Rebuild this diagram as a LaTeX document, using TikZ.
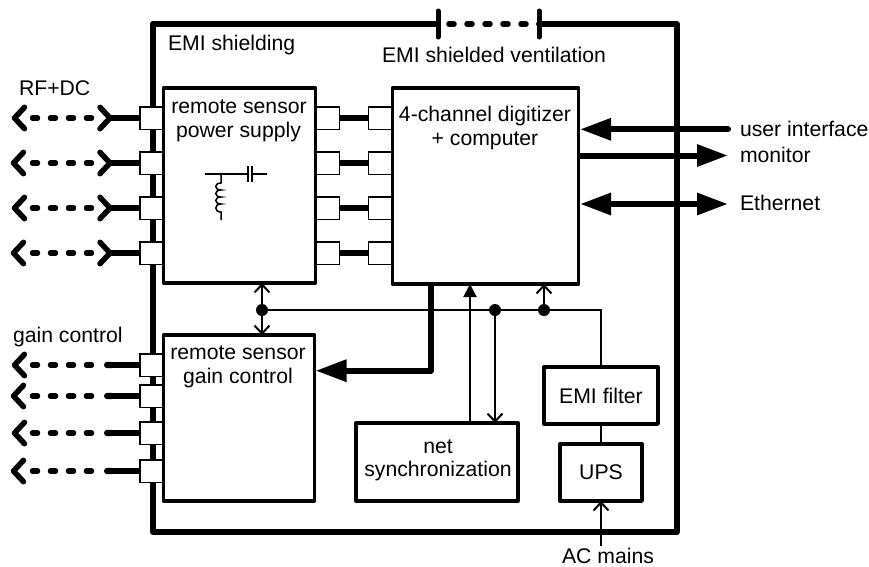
\documentclass[tikz,border=0pt]{standalone}
\usepackage{fontspec}
\setmainfont{Liberation Sans}
\usetikzlibrary{arrows.meta}
\tikzset{
  boxnode/.style={draw=black,line width=3.3pt,fill=white,inner sep=0pt,outer sep=0pt,line join=round},
  portnode/.style={draw=black,line width=1.5pt,fill=white,inner sep=0pt,outer sep=0pt,minimum width=24pt,minimum height=22.5pt},
  lbl/.style={inner sep=0pt,outer sep=0pt,font=\fontsize{21.2}{24}\selectfont,text=black},
  wall/.style={line width=6pt,line cap=round,line join=round},
  heavy/.style={line width=6.3pt},
  heavier/.style={line width=6pt,line join=round},
  thinline/.style={line width=2pt},
  dashedlink/.style={line width=5.5pt,line cap=round,dash pattern=on 5pt off 13pt},
  chevron/.style={line width=5.5pt,line cap=round,line join=round},
  openhead/.style={-{Straight Barb[length=8pt,width=15pt,line width=2pt]}},
  openboth/.style={{Straight Barb[length=8pt,width=15pt,line width=2pt]}-{Straight Barb[length=8pt,width=15pt,line width=2pt]}},
  solidhead/.style={-{Triangle[length=13pt,width=13pt]}},
  bighead/.style={-{Triangle[length=31pt,width=21pt]}},
  bighead2/.style={{Triangle[length=31pt,width=21pt]}-{Triangle[length=31pt,width=21pt]}},
  dotnode/.style={circle,fill=black,inner sep=0pt,minimum size=12pt}
}
\begin{document}
\begin{tikzpicture}[x=1pt,y=-1pt]
\useasboundingbox (0,0) rectangle (869,566);
% outer shield
\coordinate (ventL) at (438,24);
\coordinate (ventR) at (539,24);
\draw[wall] (ventL) -- (152.7,24) -- (152.7,532) -- (676.7,532) -- (676.7,24) -- (ventR);
\draw[line width=5pt,line cap=round] (438,11) -- (438,37);
\draw[line width=5pt,line cap=round] (539,11) -- (539,37);
\draw[line width=5.5pt,line cap=round,dash pattern=on 5pt off 13pt] (449,24) -- (530,24);
% RF+DC channels
\foreach \i/\y/\lx in {1/118/14.5,2/163/13.5,3/208/14.5,4/253/13.5}{
  \node[portnode] (pl\i) at (152,\y) {};
  \node[portnode] (pr\i) at (327.5,\y) {};
  \node[portnode] (dl\i) at (380.5,\y) {};
  \coordinate (far\i) at (\lx,\y);
  \coordinate (mid\i) at (110,\y);
  \coordinate (da\i) at (32.5,\y);
  \coordinate (db\i) at (92,\y);
  \draw[heavy] (mid\i) -- (pl\i.west);
  \draw[heavy] (pr\i.east) -- (dl\i.west);
  \draw[dashedlink] (da\i) -- (db\i);
  \draw[chevron] ([shift={(10,-10.7)}]far\i) -- (far\i) -- ([shift={(10,10.7)}]far\i);
  \draw[chevron] ([shift={(-10,-10.7)}]mid\i) -- (mid\i) -- ([shift={(-10,10.7)}]mid\i);
}
% gain channels
\foreach \i/\y/\lx in {1/365/14.5,2/396/13.5,3/433/14.5,4/471/13.5}{
  \node[portnode] (gp\i) at (152,\y) {};
  \coordinate (gfar\i) at (\lx,\y);
  \coordinate (gmid\i) at (104,\y);
  \coordinate (gda\i) at (32.5,\y);
  \coordinate (gdb\i) at (92,\y);
  \draw[heavy,{Round Cap[]}-] (gmid\i) -- (gp\i.west);
  \draw[dashedlink] (gda\i) -- (gdb\i);
  \draw[chevron] ([shift={(10,-10.7)}]gfar\i) -- (gfar\i) -- ([shift={(10,10.7)}]gfar\i);
}
% boxes
\node[boxnode,minimum width=152pt,minimum height=195pt] (psu) at (239.5,185.5) {};
\node[boxnode,minimum width=186pt,minimum height=196pt] (dig) at (485.5,186) {};
\node[boxnode,minimum width=151pt,minimum height=166pt] (gain) at (239,418) {};
\node[boxnode,minimum width=162pt,minimum height=78pt] (net) at (437,462) {};
\node[boxnode,minimum width=114pt,minimum height=57pt] (emi) at (601,395.5) {};
\node[boxnode,minimum width=82pt,minimum height=57pt] (ups) at (601,472.5) {};
% box labels
\node[lbl] (tpsu1) at (239,107) {remote sensor};
\node[lbl] (tpsu2) at (238.5,132) {power supply};
\node[lbl] (tdig1) at (485,116) {4-channel digitizer};
\node[lbl] (tdig2) at (485,141) {+ computer};
\node[lbl] (tgain1) at (238,353) {remote sensor};
\node[lbl] (tgain2) at (238,378) {gain control};
\node[lbl] (tnet1) at (438,447) {net};
\node[lbl] (tnet2) at (438,471) {synchronization};
\node[lbl] (temi) at (601,396) {EMI filter};
\node[lbl] (tups) at (601,472) {UPS};
% outside labels
\node[lbl,anchor=west] (tshield) at (168,45) {EMI shielding};
\node[lbl] (tvent) at (494,55) {EMI shielded ventilation};
\node[lbl,anchor=west] (trf) at (19,88) {RF+DC};
\node[lbl,anchor=west] (tgc) at (13,337) {gain control};
\node[lbl,anchor=west] (tui) at (740,129) {user interface};
\node[lbl,anchor=west] (tmon) at (740,155) {monitor};
\node[lbl,anchor=west] (teth) at (740,203) {Ethernet};
\node[lbl] (tac) at (608,556) {AC mains};
% filter symbol
\coordinate (fa) at (205,174);
\coordinate (fj) at (221,174);
\coordinate (fc1) at (248,174);
\coordinate (fc2) at (252,174);
\coordinate (fb) at (267,174);
\coordinate (fl) at (221,220);
\draw[line width=1.5pt] (fa) -- (fc1) (fc2) -- (fb);
\draw[line width=1.5pt] (248,166) -- (248,182) (252,166) -- (252,182);
\draw[line width=1.5pt] (fj) -- (221,183)
  .. controls (214,183) and (214,190) .. (221,190)
  .. controls (214,190) and (214,197) .. (221,197)
  .. controls (214,197) and (214,204) .. (221,204)
  .. controls (214,204) and (214,212) .. (221,212) -- (fl);
% power bus
\node[dotnode] (j1) at (262,310) {};
\node[dotnode] (j2) at (495,310) {};
\node[dotnode] (j3) at (544,310) {};
\draw[thinline] (j1) -- (j2) -- (j3) -| (emi.north);
\draw[thinline,openboth] (psu.south -| j1) -- (gain.north -| j1);
\draw[thinline,openhead] (j3) -- (dig.south -| j3);
\draw[thinline,openhead] (j2) -- (net.north -| j2);
\coordinate (syn) at (470,423);
\draw[thinline,solidhead] (syn) -- (dig.south -| syn);
\draw[thinline] (emi.south) -- (ups.north);
\coordinate (acin) at (601,546);
\draw[thinline,openhead] (acin) -- (ups.south);
% digitizer to gain
\coordinate (dg) at (431,284);
\coordinate (gt) at (315.5,370.7);
\draw[heavier,-{Triangle[length=31pt,width=21pt]}] (dg) |- (gt);
% right-hand links
\coordinate (uiy) at (728,129.3);
\coordinate (uit) at (580,129.3);
\coordinate (mons) at (578,155.5);
\coordinate (mone) at (728,155.5);
\coordinate (eths) at (580,204);
\coordinate (ethe) at (728,204);
\draw[heavier,line cap=round] (uiy) -- (608,129.3);
\draw[heavier,{Triangle[length=31pt,width=21pt]}-] (uit) -- (612,129.3);
\draw[heavier,bighead] (mons) -- (mone);
\draw[heavier,bighead2] (eths) -- (ethe);
\end{tikzpicture}
\end{document}
